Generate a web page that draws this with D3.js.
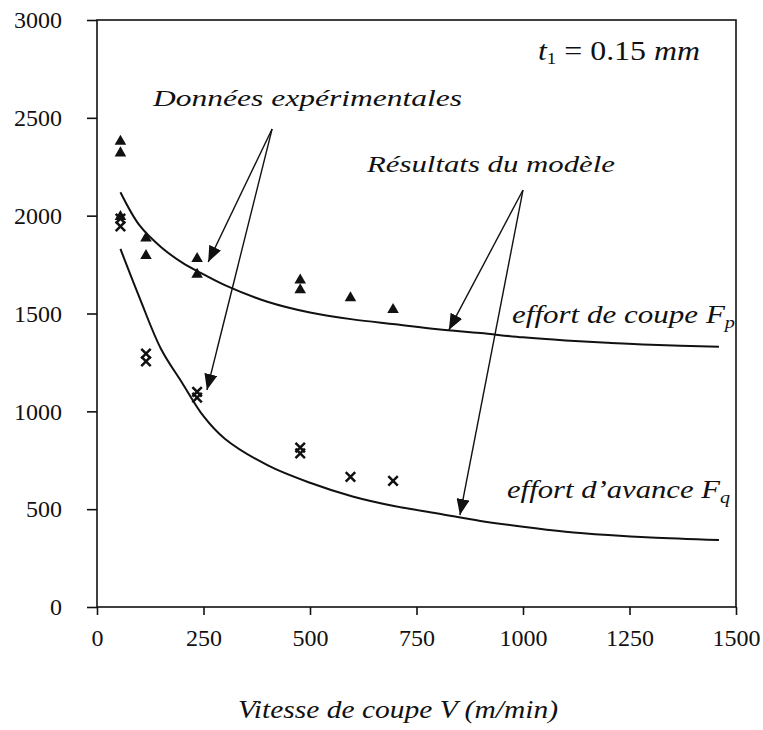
<!DOCTYPE html>
<html>
<head>
<meta charset="utf-8">
<script src="https://cdn.jsdelivr.net/npm/d3@7/dist/d3.min.js"></script>
<style>
  html, body { margin: 0; padding: 0; background: #fff; }
  svg { display: block; }
  svg text { font-family: "Times New Roman", "Liberation Serif", Tinos, "DejaVu Serif", serif; fill: #111; }
</style>
</head>
<body>
<svg id="chart" width="763" height="730"></svg>
<script>
// ---------- data ----------
const xTicks = [0, 250, 500, 750, 1000, 1250, 1500];
const yTicks = [0, 500, 1000, 1500, 2000, 2500, 3000];

// experimental data: cutting force Fp (triangles)
const fpExpV = [55, 55, 55, 115, 115, 235, 235, 477, 477, 595, 695];
const fpExpF = [2380, 2320, 1995, 1885, 1795, 1780, 1700, 1670, 1620, 1580, 1520];

// experimental data: feed force Fq (crosses)
const fqExpV = [55, 55, 115, 115, 235, 235, 477, 477, 595, 695];
const fqExpF = [1985, 1945, 1295, 1255, 1100, 1070, 815, 785, 665, 645];

// model results
const modelV  = [55, 100, 150, 200, 250, 300, 400, 500, 600, 700, 800, 900, 1000, 1100, 1200, 1300, 1460];
const modelFp = [2120, 1950, 1840, 1760, 1700, 1645, 1560, 1505, 1470, 1445, 1420, 1400, 1378, 1362, 1350, 1340, 1330];
const modelFq = [1830, 1580, 1320, 1145, 975, 860, 725, 635, 565, 515, 478, 440, 410, 385, 368, 355, 342];

// annotation arrows (data coordinates): [fromV, fromF, toV, toF]
const arrowsData = [
  [411, 2443, 261, 1763],
  [411, 2443, 258, 1109],
  [1000, 2131, 826, 1416],
  [1000, 2131, 852, 470]
];

// ---------- layout ----------
const FONT = '"Times New Roman", "Liberation Serif", Tinos, "DejaVu Serif", serif';
const svg = d3.select("#chart");
const X0 = 97, X1 = 736, Y0 = 607, Y1 = 20;
const x = d3.scaleLinear().domain([0, 1500]).range([X0, X1]);
const y = d3.scaleLinear().domain([0, 3000]).range([Y0, Y1]);

svg.append("rect").attr("width", 763).attr("height", 730).attr("fill", "#fff");

// frame
svg.append("rect")
  .attr("x", X0).attr("y", Y1).attr("width", X1 - X0).attr("height", Y0 - Y1)
  .attr("fill", "none").attr("stroke", "#111").attr("stroke-width", 1.6);

// axes
const xAxis = d3.axisBottom(x).tickValues(xTicks).tickSize(8).tickPadding(14).tickFormat(d3.format("d"));
const gx = svg.append("g").attr("transform", `translate(0,${Y0})`).call(xAxis);
gx.attr("font-family", FONT).attr("font-size", 24);
gx.select(".domain").remove();
gx.selectAll("line").attr("stroke", "#111").attr("stroke-width", 1.6);
gx.selectAll("text").attr("fill", "#111");

const yAxis = d3.axisLeft(y).tickValues(yTicks).tickSize(10).tickPadding(25).tickFormat(d3.format("d"));
const gy = svg.append("g").attr("transform", `translate(${X0},0)`).call(yAxis);
gy.attr("font-family", FONT).attr("font-size", 24);
gy.select(".domain").remove();
gy.selectAll("line").attr("stroke", "#111").attr("stroke-width", 1.6);
gy.selectAll("text").attr("fill", "#111");

// model curves
const line = d3.line().x(d => x(d[0])).y(d => y(d[1])).curve(d3.curveCatmullRom.alpha(0.5));
svg.append("path").datum(modelV.map((v, i) => [v, modelFp[i]]))
  .attr("d", line).attr("fill", "none").attr("stroke", "#111").attr("stroke-width", 2);
svg.append("path").datum(modelV.map((v, i) => [v, modelFq[i]]))
  .attr("d", line).attr("fill", "none").attr("stroke", "#111").attr("stroke-width", 2);

// triangles
const tri = d3.symbol().type(d3.symbolTriangle).size(58);
svg.append("g").selectAll("path").data(fpExpV.map((v, i) => [v, fpExpF[i]]))
  .join("path")
  .attr("d", tri)
  .attr("transform", d => `translate(${x(d[0])},${y(d[1])})`)
  .attr("fill", "#111");

// crosses
const cross = d3.symbol().type(d3.symbolX).size(60);
svg.append("g").selectAll("path").data(fqExpV.map((v, i) => [v, fqExpF[i]]))
  .join("path")
  .attr("d", cross)
  .attr("transform", d => `translate(${x(d[0])},${y(d[1])})`)
  .attr("fill", "none").attr("stroke", "#111").attr("stroke-width", 2.5);

// arrowhead marker
const defs = svg.append("defs");
defs.append("marker")
  .attr("id", "ah").attr("markerUnits", "userSpaceOnUse")
  .attr("viewBox", "0 0 16 13").attr("refX", 16).attr("refY", 6.5)
  .attr("markerWidth", 16).attr("markerHeight", 13).attr("orient", "auto")
  .append("path").attr("d", "M0,0 L16,6.5 L0,13 Z").attr("fill", "#111");

svg.append("g").selectAll("line").data(arrowsData).join("line")
  .attr("x1", d => x(d[0])).attr("y1", d => y(d[1]))
  .attr("x2", d => x(d[2])).attr("y2", d => y(d[3]))
  .attr("stroke", "#111").attr("stroke-width", 1.4)
  .attr("marker-end", "url(#ah)");

// annotations
function itext(xp, yp, len, size) {
  return svg.append("text").attr("x", xp).attr("y", yp)
    .attr("font-family", FONT)
    .attr("font-size", size).attr("font-style", "italic")
    .attr("textLength", len).attr("lengthAdjust", "spacingAndGlyphs");
}
itext(153, 106, 309, 24).text("Données expérimentales");
itext(367, 172, 248, 24).text("Résultats du modèle");

const t1 = svg.append("text").attr("x", 538).attr("y", 60).attr("font-size", 27)
  .attr("font-family", FONT)
  .attr("textLength", 162).attr("lengthAdjust", "spacingAndGlyphs");
t1.append("tspan").attr("font-style", "italic").text("t");
t1.append("tspan").attr("font-size", 16).attr("dy", 4).text("1");
t1.append("tspan").attr("dy", -4).text(" = 0.15 ");
t1.append("tspan").attr("font-style", "italic").text("mm");

const fpT = itext(512, 323, 223, 26);
fpT.append("tspan").text("effort de coupe F");
fpT.append("tspan").attr("font-size", 17).attr("dy", 5).text("p");

const fqT = itext(507, 498, 223, 26);
fqT.append("tspan").text("effort d’avance F");
fqT.append("tspan").attr("font-size", 17).attr("dy", 5).text("q");

itext(238, 718, 320, 25).text("Vitesse de coupe V (m/min)");
</script>
</body>
</html>
